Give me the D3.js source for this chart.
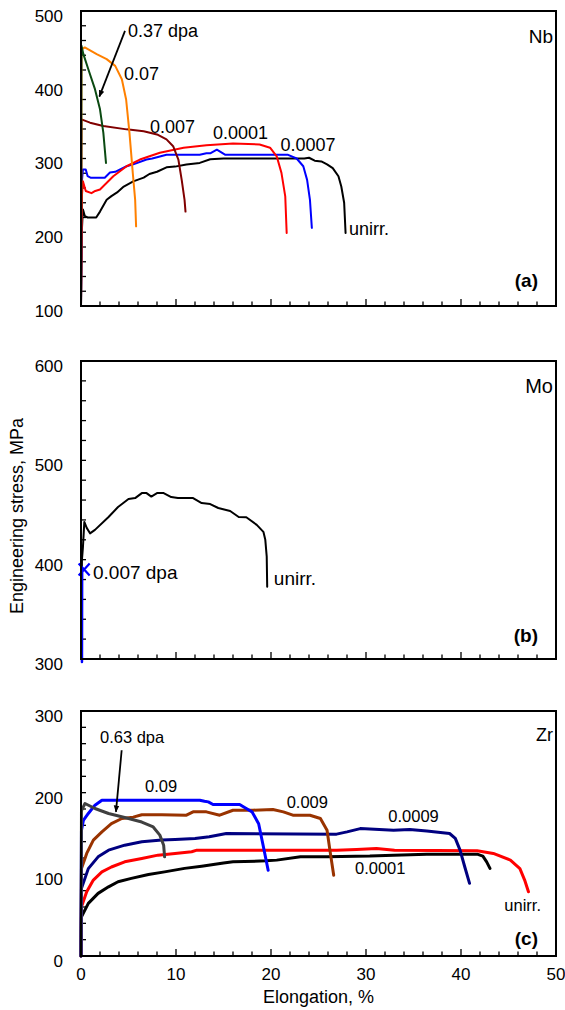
<!DOCTYPE html>
<html>
<head>
<meta charset="utf-8">
<script src="https://cdn.jsdelivr.net/npm/d3@7"></script>
<style>
  body { margin: 0; background: #fff; }
  svg { display: block; }
  text { font-family: "Liberation Sans", Arial, sans-serif; fill: #000; }
</style>
</head>
<body>
<svg id="chart" width="565" height="1010"></svg>
<script>
// ---- Tick values ----
const elongTicks = [0, 10, 20, 30, 40, 50];
const nbStressTicks = [100, 200, 300, 400, 500];
const moStressTicks = [300, 400, 500, 600];
const zrStressTicks = [0, 100, 200, 300];

// ---- Nb tensile curves: [elongation %, engineering stress MPa] ----
const nbUnirr = [[0,100],[0.1,205],[0.2,231],[0.4,222],[0.7,220],[1.6,220],[2.0,228],[2.7,244],[3.2,249],[3.8,254],[4.5,262],[5.5,269],[6.6,274],[7.2,279],[8.0,282],[9.0,288],[9.9,289],[11.1,292],[12.5,294],[13.6,299],[15,300],[20,300],[23.5,300],[24.0,301],[24.6,297],[25.3,296],[25.9,292],[26.5,287],[27.1,276],[27.4,262],[27.7,240],[27.85,199]];
const nb00007 = [[0,100],[0.1,270],[0.2,285],[0.5,285],[0.7,276],[1.0,274],[2.5,274],[3.05,281],[3.6,282],[4.8,289.5],[5.5,292],[6.9,298.6],[7.5,300],[9.0,305],[12.5,305],[13.2,307],[13.6,307],[14.3,312],[15.2,305],[18,305],[21.8,305],[22.7,300],[23.4,289.5],[23.8,271],[24.1,244],[24.3,206]];
const nb00001 = [[0,100],[0.1,250],[0.2,269],[0.5,256],[1.1,253],[1.5,256],[2.0,258],[3.4,276],[4.8,289.5],[6.2,298.6],[8.3,307.8],[10.8,314.6],[13.2,318],[16.0,320.4],[18.8,319],[19.9,314.6],[20.6,303],[21.1,280.5],[21.5,248.7],[21.65,199]];
const nb0007 = [[0,100],[0.05,353],[0.95,348.6],[2.35,344],[4.8,339.5],[6.6,337],[8.0,332.6],[9.0,325.9],[9.7,316.7],[10.25,298.6],[10.6,271],[10.9,244],[11.0,228]];
const nb007 = [[0,100],[0.05,448],[0.4,450.6],[1.65,441.5],[2.7,434.7],[3.6,425.6],[4.3,407.5],[4.75,380],[5.1,335],[5.45,280.5],[5.7,244],[5.8,208]];
const nb037 = [[0,100],[0.05,452.8],[0.25,441.5],[0.77,421],[1.47,394],[2.0,366.7],[2.35,335],[2.63,294]];

// ---- Mo tensile curves ----
const moUnirr = [[0,300],[0.1,400],[0.2,412],[0.35,438],[0.6,432],[0.95,426.5],[1.47,430],[2.9,443],[3.9,453],[5.0,461],[5.7,462],[6.4,467],[6.9,467],[7.4,463.5],[8.0,467],[8.7,467],[9.5,463],[10.2,462],[11.8,462],[12.7,457],[13.6,456],[14.45,452],[15.7,449],[16.6,443],[17.4,442.7],[18.5,435],[19.2,428],[19.4,420],[19.55,403],[19.6,372.8]];
const mo0007 = [[0.1,297],[0.12,390]];

// ---- Zr tensile curves ----
const zr00001 = [[0,0],[0.05,48],[0.77,64.4],[1.8,76.7],[2.9,84.7],[3.9,90.9],[5.3,95],[7.1,99.9],[8.8,103],[10.9,107.3],[12.7,110],[15,114],[16.0,115.3],[19.5,116.5],[20.6,117.4],[23.1,121.4],[25.9,121.4],[30.4,122.3],[32.9,123.5],[36.4,124.7],[41.7,124.7],[42.3,122.3],[42.7,115.3],[43.05,107.3]];
const zrUnirr = [[0,0],[0.05,60.3],[0.6,78.6],[1.3,93],[2.2,103],[3.2,109],[4.6,115.3],[6.4,119.5],[8.1,123.5],[9.9,125.6],[11.65,127.6],[12.2,129.6],[26.9,129.6],[29,130.5],[31.1,131.7],[33,129.6],[41.7,128.8],[43.4,125.6],[45.2,117.4],[46.2,107],[46.7,93],[47.1,78.6]];
const zr00009 = [[0,0],[0.05,82.8],[0.77,107],[1.8,121.4],[2.9,129.6],[4.6,135.7],[6.4,139.8],[8.5,141.9],[9.9,142.7],[12.0,144],[13.5,146],[15.3,150],[26.9,149.2],[28,152],[29.4,156],[32.9,154],[34.6,155],[36.4,153],[38.8,150],[39.4,144],[39.9,129.6],[40.4,109],[40.9,89]];
const zr0009 = [[0,0],[0.05,107],[0.6,125.6],[1.3,141.9],[2.2,152],[3.2,162],[4.3,168.4],[5.5,170],[6.4,173],[8.5,173],[11.1,172.4],[11.8,176.5],[13.2,176.5],[14.6,172.4],[16.0,178.5],[18.1,178.5],[20.2,179.4],[21.3,176.5],[22.3,172.4],[24.1,172.4],[25.2,168.4],[25.9,154],[26.2,129.6],[26.6,99]];
const zr009 = [[0,0],[0.05,154],[0.25,166],[0.77,174.5],[1.47,184.7],[2.2,190.8],[12.5,190.8],[13.0,189.5],[13.4,188.7],[13.9,185.5],[16.7,185.5],[17.4,180.6],[18.0,176.5],[18.7,162],[19.2,133.7],[19.7,105]];
const zr063 = [[0,0],[0.05,178],[0.42,186.7],[1.47,180.6],[2.9,174.5],[4.6,169.6],[6.4,164],[7.6,158],[8.3,148],[8.7,135.7],[8.8,121.4]];

// ---- Layout ----
const svg = d3.select("#chart");
const W = 565, H = 1010;
svg.append("rect").attr("width", W).attr("height", H).attr("fill", "#fff");

const left = 81, right = 556;
const x = d3.scaleLinear().domain([0, 50]).range([left, right]);

const panels = [
  {
    top: 11, bottom: 306, domain: [100, 500], ticks: nbStressTicks,
    metal: "Nb", tag: "(a)", tagY: 287, metalY: 43, metalSize: 19, textSize: 18, width: 2,
    series: [
      { data: nbUnirr, color: "#000000" },
      { data: nb00007, color: "#0000ff" },
      { data: nb00001, color: "#ff0000" },
      { data: nb0007,  color: "#800000" },
      { data: nb007,   color: "#ff8000" },
      { data: nb037,   color: "#0b4a12" }
    ],
    labels: [
      { text: "0.37 dpa", e: 4.95, s: 465 },
      { text: "0.07",     e: 4.53, s: 406 },
      { text: "0.007",    e: 7.26, s: 335 },
      { text: "0.0001",   e: 13.9, s: 325.9 },
      { text: "0.0007",   e: 21.0, s: 310 },
      { text: "unirr.",   e: 28.2, s: 196.6 }
    ],
    arrows: [ { from: [4.63, 473], to: [1.93, 384] } ]
  },
  {
    top: 361, bottom: 659, domain: [300, 600], ticks: moStressTicks,
    metal: "Mo", tag: "(b)", tagY: 642, metalY: 393, metalSize: 20, textSize: 19, width: 2,
    series: [
      { data: moUnirr, color: "#000000" },
      { data: mo0007,  color: "#0000ff", width: 2.5, cross: true }
    ],
    labels: [
      { text: "0.007 dpa", e: 1.26, s: 381 },
      { text: "unirr.",    e: 20.3, s: 374.5 }
    ],
    arrows: []
  },
  {
    top: 711, bottom: 956, domain: [0, 300], ticks: zrStressTicks,
    metal: "Zr", tag: "(c)", tagY: 945, metalY: 741, metalSize: 18, textSize: 16.5, width: 3,
    series: [
      { data: zr00001, color: "#000000" },
      { data: zrUnirr, color: "#ff0000" },
      { data: zr00009, color: "#000080" },
      { data: zr0009,  color: "#993300" },
      { data: zr009,   color: "#0000ff" },
      { data: zr063,   color: "#404040" }
    ],
    labels: [
      { text: "0.63 dpa", e: 2.0,   s: 260.8 },
      { text: "0.09",     e: 6.74,  s: 201 },
      { text: "0.009",    e: 21.65, s: 181.8 },
      { text: "0.0009",   e: 32.35, s: 164 },
      { text: "0.0001",   e: 28.84, s: 100 },
      { text: "unirr.",   e: 44.56, s: 55 }
    ],
    arrows: [ { from: [4.28, 251.9], to: [3.68, 176.5] } ]
  }
];

// arrowhead marker
svg.append("defs").append("marker")
  .attr("id", "head")
  .attr("viewBox", "0 0 10 10")
  .attr("refX", 9).attr("refY", 5)
  .attr("markerWidth", 7).attr("markerHeight", 7)
  .attr("markerUnits", "userSpaceOnUse")
  .attr("orient", "auto")
  .append("path").attr("d", "M0,1 L10,5 L0,9 Z").attr("fill", "#000");

panels.forEach((p, i) => {
  const y = d3.scaleLinear().domain(p.domain).range([p.bottom, p.top]);
  const g = svg.append("g");

  // minor stress ticks every 20 MPa, pointing inward
  const minorY = d3.range(p.domain[0], p.domain[1] + 0.1, 20);
  g.append("g").selectAll("line").data(minorY).join("line")
    .attr("x1", left).attr("x2", left + 5)
    .attr("y1", d => y(d)).attr("y2", d => y(d))
    .attr("stroke", "#000").attr("stroke-width", 1.3);

  // elongation ticks: minor every 2 %, major every 10 %
  const minorX = d3.range(0, 50.1, 2);
  g.append("g").selectAll("line").data(minorX).join("line")
    .attr("x1", d => x(d)).attr("x2", d => x(d))
    .attr("y1", p.bottom).attr("y2", d => p.bottom - (d % 10 === 0 ? 7 : 4.5))
    .attr("stroke", "#000").attr("stroke-width", 1.3);

  // stress tick labels
  g.append("g").selectAll("text").data(p.ticks).join("text")
    .attr("x", 63).attr("y", d => y(d) + 5)
    .attr("dy", "0.35em")
    .attr("text-anchor", "end")
    .attr("font-size", 17)
    .text(d => d);

  // curves
  const line = d3.line().x(d => x(d[0])).y(d => y(d[1]));
  p.series.forEach(s => {
    g.append("path").datum(s.data)
      .attr("d", line)
      .attr("fill", "none")
      .attr("stroke", s.color)
      .attr("stroke-width", s.width || p.width)
      .attr("stroke-linejoin", "round")
      .attr("stroke-linecap", "round");
    if (s.cross) {
      const last = s.data[s.data.length - 1];
      const cx = x(last[0]) + 2, cy = y(last[1]);
      g.append("path")
        .attr("d", `M${cx-5.5},${cy-6}L${cx+5.5},${cy+6}M${cx+5.5},${cy-6}L${cx-5.5},${cy+6}`)
        .attr("stroke", s.color).attr("stroke-width", 2.2).attr("fill", "none");
    }
  });

  // curve labels
  g.append("g").selectAll("text").data(p.labels).join("text")
    .attr("x", d => x(d.e)).attr("y", d => y(d.s))
    .attr("font-size", p.textSize)
    .text(d => d.text);

  // arrows
  p.arrows.forEach(a => {
    g.append("line")
      .attr("x1", x(a.from[0])).attr("y1", y(a.from[1]))
      .attr("x2", x(a.to[0])).attr("y2", y(a.to[1]))
      .attr("stroke", "#000").attr("stroke-width", 1.8)
      .attr("marker-end", "url(#head)");
  });

  // metal name and panel tag
  g.append("text").attr("x", right - 3).attr("y", p.metalY)
    .attr("text-anchor", "end").attr("font-size", p.metalSize).text(p.metal);
  g.append("text").attr("x", 538).attr("y", p.tagY)
    .attr("text-anchor", "end").attr("font-size", 19).attr("font-weight", "bold").text(p.tag);

  // frame
  g.append("rect")
    .attr("x", left).attr("y", p.top)
    .attr("width", right - left).attr("height", p.bottom - p.top)
    .attr("fill", "none").attr("stroke", "#000").attr("stroke-width", 2);

  // elongation labels on the bottom panel only
  if (i === panels.length - 1) {
    g.append("g").selectAll("text").data(elongTicks).join("text")
      .attr("x", d => x(d)).attr("y", 980)
      .attr("text-anchor", "middle").attr("font-size", 17)
      .text(d => d);
    g.append("text").attr("x", (left + right) / 2).attr("y", 1003)
      .attr("text-anchor", "middle").attr("font-size", 18)
      .text("Elongation, %");
  }
});

// shared stress axis title
svg.append("text")
  .attr("transform", "translate(23,516) rotate(-90)")
  .attr("text-anchor", "middle").attr("font-size", 18)
  .text("Engineering stress, MPa");
</script>
</body>
</html>
